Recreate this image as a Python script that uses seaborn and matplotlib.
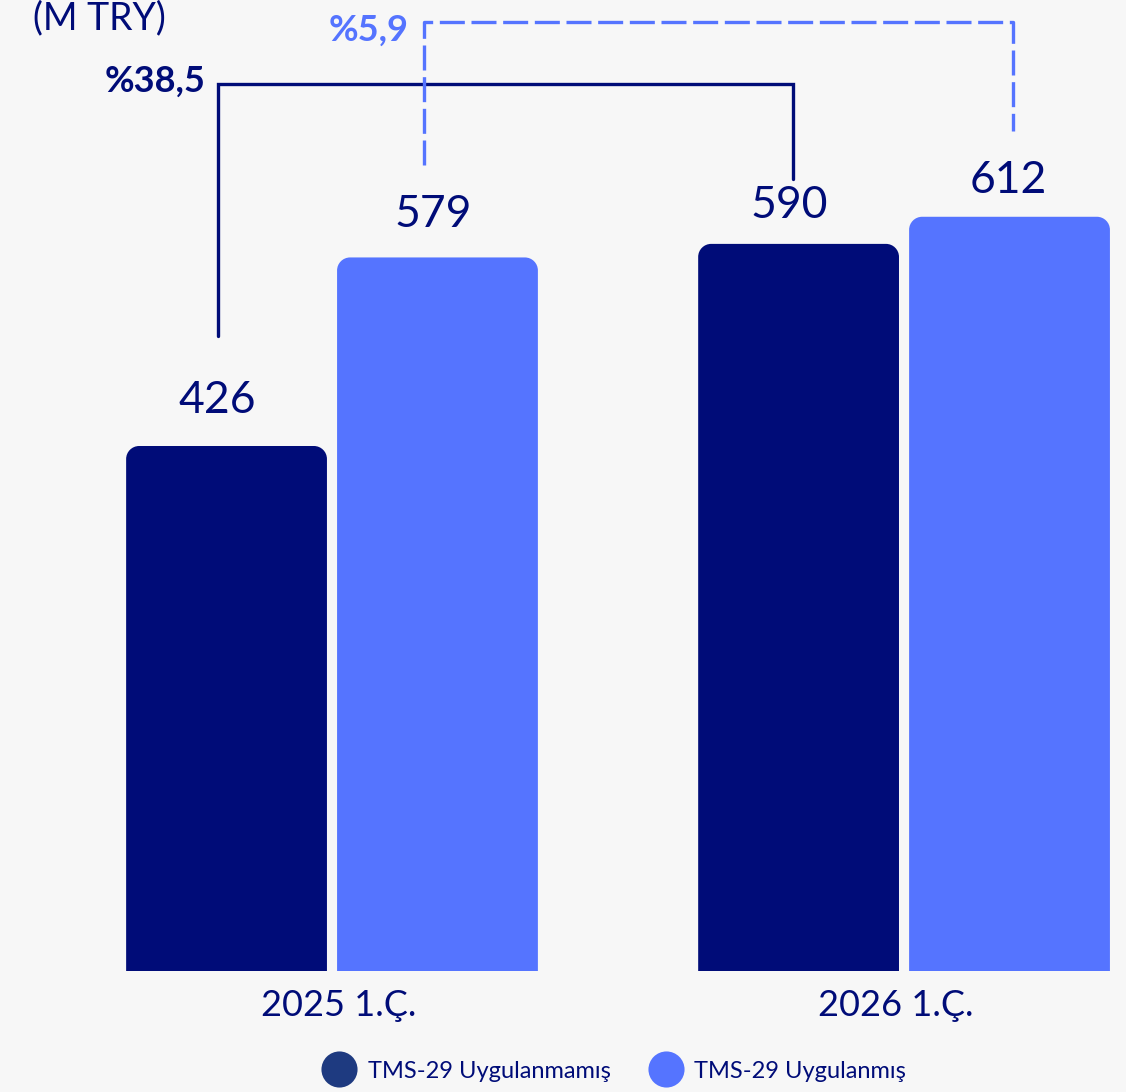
import numpy as np
import pandas as pd
import matplotlib
matplotlib.use("Agg")
import matplotlib.pyplot as plt
from matplotlib.path import Path
from matplotlib.patches import PathPatch
from matplotlib.lines import Line2D
from matplotlib.transforms import ScaledTranslation
import seaborn as sns

# ---- data ----
periods = ["2025 1.Ç.", "2026 1.Ç."]
series = ["TMS-29 Uygulanmamış", "TMS-29 Uygulanmış"]
values_unapplied = [426, 590]
values_applied = [579, 612]
growth_labels = ["%38,5", "%5,9"]
unit_label = "(M TRY)"

NAVY = "#000c78"
BLUE = "#5574ff"
LEGEND_NAVY = "#1e3a80"
BG = "#f7f7f7"

df = pd.DataFrame({
    "period": periods * 2,
    "series": [series[0]] * 2 + [series[1]] * 2,
    "value": values_unapplied + values_applied,
})

sns.set_theme(style="white")
plt.rcParams["font.family"] = ["Lato", "DejaVu Sans"]

W, H, DPI = 1126, 1092, 100
fig = plt.figure(figsize=(W / DPI, H / DPI), dpi=DPI, facecolor=BG)
ax = fig.add_axes([0, 121 / H, 1, 971 / H])
ax.set_facecolor(BG)

sns.barplot(data=df, x="period", y="value", hue="series", order=periods,
            hue_order=series, palette=[NAVY, BLUE], saturation=1,
            width=0.7375, gap=0.048, legend=False, ax=ax)

ax.set_xlim(-0.5804, 1.388)
ax.set_ylim(0, 787.9)
for s in ax.spines.values():
    s.set_visible(False)
ax.set_yticks([])
ax.set_xlabel("")
ax.set_ylabel("")
ax.tick_params(axis="x", length=0, pad=13, labelsize=26, labelcolor=NAVY)
# nudge the period labels slightly
for lab, dx in zip(ax.get_xticklabels(), (7, -8)):
    lab.set_transform(lab.get_transform() + ScaledTranslation(dx / DPI, 0, fig.dpi_scale_trans))

# pixel -> data unit conversions
px_x = 1.968 / W
px_y = 787.9 / 971


def rounded_top(x0, w, h, r_px=13):
    rx, ry = r_px * px_x, r_px * px_y
    k = 0.5523
    verts = [
        (x0, 0), (x0, h - ry),
        (x0, h - ry + k * ry), (x0 + rx - k * rx, h), (x0 + rx, h),
        (x0 + w - rx, h),
        (x0 + w - rx + k * rx, h), (x0 + w, h - ry + k * ry), (x0 + w, h - ry),
        (x0 + w, 0), (x0, 0),
    ]
    codes = [Path.MOVETO, Path.LINETO,
             Path.CURVE4, Path.CURVE4, Path.CURVE4,
             Path.LINETO,
             Path.CURVE4, Path.CURVE4, Path.CURVE4,
             Path.LINETO, Path.CLOSEPOLY]
    return Path(verts, codes)


bars = []
for p in list(ax.patches):
    x0, w, h = p.get_x(), p.get_width(), p.get_height()
    col = p.get_facecolor()
    p.remove()
    ax.add_patch(PathPatch(rounded_top(x0, w, h), facecolor=col,
                           edgecolor="none", zorder=2))
    bars.append((x0 + w / 2, h))

# left to right: navy 2025, blue 2025, navy 2026, blue 2026
bars.sort(key=lambda b: b[0])

label_dx = (-9, -4, -9, -1)
label_gap = (33, 30, 26, 24)
for (cx, h), dx, gap in zip(bars, label_dx, label_gap):
    ax.text(cx + dx * px_x, h + gap * px_y, f"{h:.0f}", ha="center",
            va="baseline", fontsize=32, color=NAVY)

# growth brackets
(d1x, d1h), (b1x, b1h), (d2x, d2h), (b2x, b2h) = bars
top_dark = d1h + 294
ax.plot([d1x - 8.5 * px_x, d1x - 8.5 * px_x, d2x - 5.5 * px_x, d2x - 5.5 * px_x],
        [d1h + 89, top_dark, top_dark, d2h + 53],
        color=NAVY, lw=2.4, solid_joinstyle="miter", zorder=3)
ax.text(d1x - 21 * px_x, top_dark + 2 * px_y, growth_labels[0], ha="right",
        va="center", fontsize=26, fontweight="bold", color=NAVY)

top_blue = b1h + 191
ax.plot([b1x - 13.5 * px_x, b1x - 13.5 * px_x, b2x + 3.5 * px_x, b2x + 3.5 * px_x],
        [b1h + 75, top_blue, top_blue, b2h + 70],
        color=BLUE, lw=2.4, dashes=(7.5, 2), zorder=3)
ax.text(b1x - 29 * px_x, top_blue - 8 * px_y, growth_labels[1], ha="right",
        va="center", fontsize=26, fontweight="bold", color=BLUE)

fig.text(33 / W, 1 - 18 / H, unit_label, ha="left", va="center",
         fontsize=27, color=NAVY)

handles = [Line2D([], [], marker="o", linestyle="none", markersize=26,
                  markerfacecolor=c, markeredgecolor="none")
           for c in (LEGEND_NAVY, BLUE)]
leg = fig.legend(handles, series, loc="center", bbox_to_anchor=(0.5453, 21 / H),
                 ncol=2, frameon=False, fontsize=17, handletextpad=0.45,
                 columnspacing=1.6, handlelength=1.5, borderpad=0)
for t in leg.get_texts():
    t.set_color(NAVY)

fig.savefig("out.png", dpi=DPI, facecolor=BG)
